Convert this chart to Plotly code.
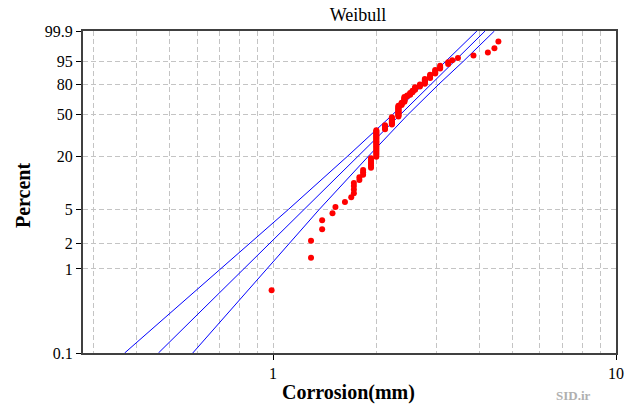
import numpy as np
import plotly.graph_objects as go

# Corrosion depths (mm) with number of tied observations at each depth
corrosion_mm = [0.99, 1.29, 1.39, 1.49, 1.52, 1.62, 1.69, 1.72, 1.785, 1.83,
                1.93, 2.0, 2.12, 2.22, 2.32, 2.37, 2.415, 2.46, 2.51, 2.55,
                2.594, 2.68, 2.77, 2.87, 2.97, 3.07, 3.24, 3.33, 3.46, 3.84,
                4.23, 4.42, 4.54]
tie_counts = [1, 2, 2, 1, 1, 1, 1, 4, 2, 3,
              6, 22, 5, 9, 14, 4, 7, 2, 3, 3,
              4, 3, 6, 4, 4, 3, 2, 1, 1, 1,
              1, 1, 1]

# Fitted Weibull line and its confidence bounds at selected percentiles
band_percent = [0.1, 1, 5, 20, 50, 80, 95, 99.9]
fit_x = [0.463, 0.821, 1.23, 1.771, 2.347, 2.892, 3.375, 4.152]
lower_x = [0.369, 0.702, 1.107, 1.651, 2.230, 2.745, 3.185, 3.93]
upper_x = [0.583, 0.962, 1.362, 1.899, 2.470, 3.046, 3.584, 4.42]

# Probability axis ticks
tick_percent = [0.1, 1, 2, 5, 20, 50, 80, 95, 99.9]
tick_labels = ["0.1", "1", "2", "5", "20", "50", "80", "95", "99.9"]
x_major = [1, 10]
x_minor = [0.3, 0.4, 0.5, 0.6, 0.7, 0.8, 0.9, 2, 3, 4, 5, 6, 7, 8, 9]


def weibull_y(pct):
    p = np.asarray(pct, dtype=float) / 100.0
    return np.log(-np.log(1.0 - p))


# Median-rank plotting positions for the sorted sample
x_obs = np.repeat(corrosion_mm, tie_counts)
n = len(x_obs)
ranks = np.arange(1, n + 1)
pct_obs = (ranks - 0.3) / (n + 0.4) * 100.0

FONT = "Liberation Serif"
GRID = "#c4c4c4"
BLUE = "#0000ff"

fig = go.Figure()
for xs in (lower_x, fit_x, upper_x):
    fig.add_trace(go.Scatter(x=xs, y=weibull_y(band_percent), mode="lines",
                             line=dict(color=BLUE, width=1), hoverinfo="skip",
                             showlegend=False))
fig.add_trace(go.Scatter(x=x_obs, y=weibull_y(pct_obs), mode="markers",
                         marker=dict(color="#ff0000", size=6, line=dict(width=0)),
                         showlegend=False))

y_lo = float(weibull_y([0.1])[0])
y_hi = float(weibull_y([99.9])[0])

fig.update_layout(
    width=635, height=405,
    margin=dict(l=83, r=19, t=31, b=52),
    paper_bgcolor="white", plot_bgcolor="white",
    font=dict(family=FONT, size=16, color="black"),
    title=dict(text="Weibull", x=(358 - 83) / 533, xref="paper", xanchor="center",
               y=1 - 15 / 405, yanchor="middle",
               font=dict(family=FONT, size=18, color="black")),
    xaxis=dict(type="log", range=[np.log10(0.279), 1.0],
               tickvals=x_major, ticktext=["1", "10"],
               ticks="outside", ticklen=5, tickcolor="black",
               showgrid=True, gridcolor=GRID, griddash="5px,3px", gridwidth=1,
               minor=dict(tickvals=x_minor, showgrid=True, gridcolor=GRID,
                          griddash="5px,3px", gridwidth=1, ticks=""),
               showline=True, mirror=True, linecolor="#404040", linewidth=2,
               zeroline=False),
    yaxis=dict(range=[y_lo, y_hi],
               tickvals=list(weibull_y(tick_percent)), ticktext=tick_labels,
               ticks="outside", ticklen=5, tickcolor="black",
               showgrid=True, gridcolor=GRID, griddash="5px,3px", gridwidth=1,
               showline=True, mirror=True, linecolor="#404040", linewidth=2,
               zeroline=False),
    annotations=[
        dict(text="<b>Percent</b>", xref="paper", yref="paper",
             x=(23 - 83) / 533, y=(353 - 196) / 322, textangle=-90,
             showarrow=False, xanchor="center", yanchor="middle",
             font=dict(family=FONT, size=20, color="black")),
        dict(text="<b>Corrosion(mm)</b>", xref="paper", yref="paper",
             x=(348.5 - 83) / 533, y=(353 - 392) / 322,
             showarrow=False, xanchor="center", yanchor="middle",
             font=dict(family=FONT, size=20, color="black")),
        dict(text="<b>SID.ir</b>", xref="paper", yref="paper",
             x=(555 - 83) / 533, y=(353 - 404) / 322,
             showarrow=False, xanchor="left", yanchor="bottom",
             borderpad=0,
             font=dict(family=FONT, size=13, color="#b0b0b0")),
    ],
)

fig.write_html("out.html")
